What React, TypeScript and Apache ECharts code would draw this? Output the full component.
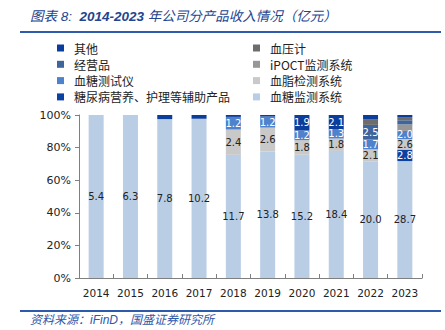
import React, { useEffect, useRef } from "react";
import * as echarts from "echarts";

const years = ["2014", "2015", "2016", "2017", "2018", "2019", "2020", "2021", "2022", "2023"];

// revenue by product line (亿元), bottom of stack first
const glucoseMonitoring = [5.4, 6.3, 7.8, 10.2, 11.7, 13.8, 15.2, 18.4, 20.0, 28.7];
const diabetesCare = [0, 0, 0, 0, 0, 0, 0, 0, 0, 2.8];
const lipidTesting = [0, 0, 0, 0, 2.4, 2.6, 1.8, 1.8, 2.1, 2.6];
const glucoseMeter = [0, 0, 0, 0, 1.2, 1.2, 1.2, 1.3, 1.7, 2.0];
const ipoct = [0, 0, 0, 0, 0, 0, 0, 0, 0, 1.6];
const tradedGoods = [0, 0, 0, 0, 0, 0, 0, 0, 2.5, 1.0];
const bloodPressure = [0, 0, 0, 0, 0, 0, 0, 0, 1.0, 0.8];
const others = [0, 0, 0.2, 0.24, 0.18, 0.17, 1.9, 2.1, 0.7, 0.5];

const yTicks = [0, 20, 40, 60, 80, 100];

const seriesDefs = [
  { name: "血糖监测系统", data: glucoseMonitoring, color: "#B9CDE5", labelColor: "#222", showLabel: true },
  { name: "糖尿病营养、护理等辅助产品", data: diabetesCare, color: "#0B41A2", labelColor: "#fff", showLabel: true },
  { name: "血脂检测系统", data: lipidTesting, color: "#C9C9C9", labelColor: "#222", showLabel: true },
  { name: "血糖测试仪", data: glucoseMeter, color: "#4E82CC", labelColor: "#fff", showLabel: true },
  { name: "iPOCT监测系统", data: ipoct, color: "#979797", labelColor: "#fff", showLabel: false },
  { name: "经营品", data: tradedGoods, color: "#3F659C", labelColor: "#fff", showLabel: true },
  { name: "血压计", data: bloodPressure, color: "#6D6D6D", labelColor: "#fff", showLabel: false },
  { name: "其他", data: others, color: "#0A3D9C", labelColor: "#fff", showLabel: true },
];

const legendLeft = ["其他", "经营品", "血糖测试仪", "糖尿病营养、护理等辅助产品"];
const legendRight = ["血压计", "iPOCT监测系统", "血脂检测系统", "血糖监测系统"];

const TITLE_COLOR = "#23448F";
const CJK = "'Noto Sans CJK SC', sans-serif";

export default function App() {
  const ref = useRef<HTMLDivElement>(null);

  useEffect(() => {
    if (!ref.current) return;
    const chart = echarts.init(ref.current, undefined, { renderer: "svg" });
    const totals = years.map((_, i) => seriesDefs.reduce((s, d) => s + d.data[i], 0));

    const series = seriesDefs.map((d) => ({
      name: d.name,
      type: "bar",
      stack: "total",
      barWidth: 15,
      itemStyle: { color: d.color },
      data: d.data.map((v, i) => (v > 0 ? (v / totals[i]) * 100 : null)),
      label: {
        show: d.showLabel,
        position: "inside",
        fontSize: 10,
        lineHeight: 8,
        fontFamily: "'DejaVu Sans', sans-serif",
        color: d.labelColor,
        formatter: (p: any) => {
          const raw = d.data[p.dataIndex];
          return raw >= 1.15 ? raw.toFixed(1) : "";
        },
      },
    }));

    const legendCommon = {
      orient: "vertical",
      top: 36,
      icon: "rect",
      itemWidth: 7,
      itemHeight: 7,
      itemGap: 2.3,
      selectedMode: false,
      textStyle: {
        fontSize: 12,
        lineHeight: 14,
        fontFamily: CJK,
        color: "#222",
        padding: [0, 0, 0, 5],
      },
    };

    chart.setOption({
      animation: false,
      backgroundColor: "#fff",
      color: seriesDefs.map((d) => d.color),
      legend: [
        { ...legendCommon, left: 52, data: legendLeft },
        { ...legendCommon, left: 248, data: legendRight },
      ],
      grid: { left: 79, right: 23, top: 115, bottom: 52 },
      xAxis: {
        type: "category",
        data: years,
        axisLine: { lineStyle: { color: "#7F7F7F" } },
        axisTick: { show: true, inside: true, length: 4, lineStyle: { color: "#7F7F7F" } },
        axisLabel: {
          interval: 0,
          fontSize: 10.5,
          fontFamily: "'DejaVu Sans', sans-serif",
          color: "#222",
          margin: 9,
        },
      },
      yAxis: {
        type: "value",
        min: yTicks[0],
        max: yTicks[yTicks.length - 1],
        interval: 20,
        axisLine: { show: true, lineStyle: { color: "#7F7F7F" } },
        axisTick: { show: true, length: 4, lineStyle: { color: "#7F7F7F" } },
        splitLine: { show: false },
        axisLabel: {
          formatter: "{value}%",
          fontSize: 11,
          fontFamily: "'DejaVu Sans', sans-serif",
          color: "#222",
          margin: 8,
        },
      },
      series,
      graphic: [
        {
          type: "text",
          left: 30,
          top: 9,
          style: {
            text: "{a|图表 8:  }{b|2014-2023 }{a|年公司分产品收入情况（亿元）}",
            rich: {
              a: { fontSize: 13.5, fontStyle: "italic", fontFamily: "'Liberation Sans', " + CJK, fill: TITLE_COLOR, fontWeight: "normal" },
              b: { fontSize: 13.5, fontStyle: "italic", fontFamily: "'Liberation Sans', sans-serif", fill: TITLE_COLOR, fontWeight: "bold" },
            },
          },
        },
        {
          type: "line",
          shape: { x1: 20, y1: 32, x2: 441, y2: 32 },
          style: { stroke: "#2E5AAC", lineWidth: 2 },
        },
        {
          type: "line",
          shape: { x1: 20, y1: 311, x2: 441, y2: 311 },
          style: { stroke: "#2E5AAC", lineWidth: 2 },
        },
        {
          type: "text",
          left: 30,
          top: 314,
          style: {
            text: "资料来源：iFinD，国盛证券研究所",
            fontSize: 12,
            fontStyle: "italic",
            fontFamily: "'Liberation Sans', " + CJK,
            fill: "#2F58A8",
          },
        },
      ],
    });

    return () => chart.dispose();
  }, []);

  return (
    <div
      ref={ref}
      style={{ width: 445, height: 330, position: "absolute", left: 0, top: 0 }}
    />
  );
}
